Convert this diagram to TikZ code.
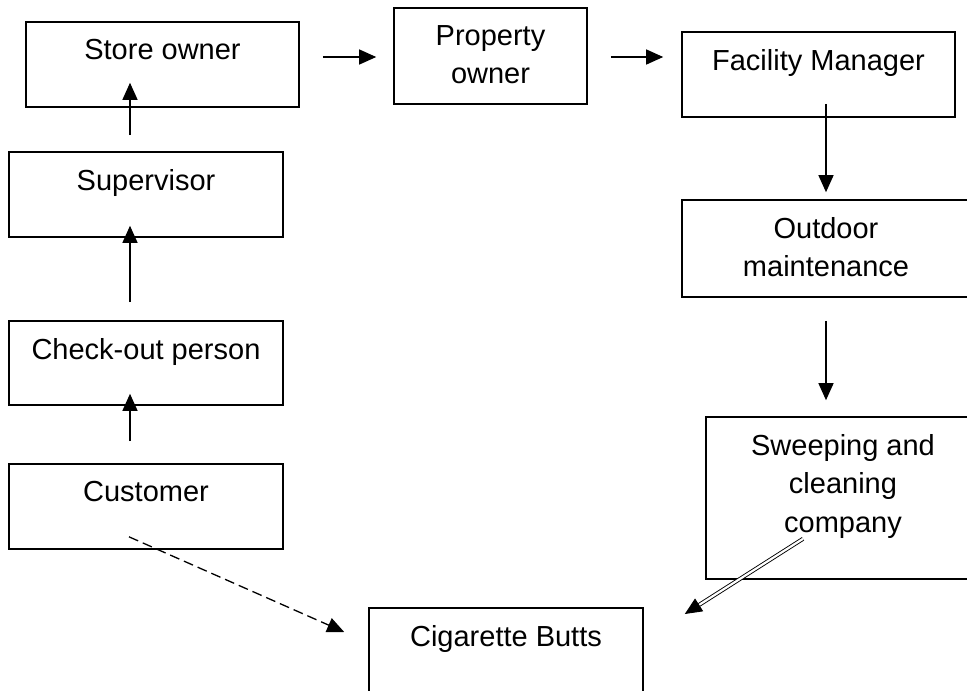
\documentclass[tikz,border=0pt]{standalone}
\usepackage{fontspec}
\setmainfont{Liberation Sans}
\usepackage{tikz}
\usetikzlibrary{arrows.meta, positioning, calc}

\begin{document}
\begin{tikzpicture}[
            x=1pt, y=-1pt,
            % Box and label styles
            box/.style={
                rectangle,
                draw=black,
                line width=1.6pt,
                inner sep=0pt
            },
            txt/.style={
                align=center,
                inner sep=0pt,
                font=\fontsize{29}{38.5}\selectfont
            },
            line/.style={
                draw,
                line width=1.3pt,
                -{Triangle[length=17pt,width=15pt]}
            },
            dashline/.style={
                line,
                dash pattern=on 10pt off 5pt
            },
            dblline/.style={
                draw,
                double,
                double distance=2.2pt,
                line width=0.9pt,
                -{Triangle[length=17pt,width=15pt]}
            }
        ]
        \useasboundingbox (0,0) rectangle (967,691);
        \clip (0,0) rectangle (967,691);

        % --- Boxes ---
        \node [box, minimum width=273pt, minimum height=85pt] (store) at (162.5,64.5) {};
        \node [box, minimum width=193pt, minimum height=96pt] (prop) at (490.5,56) {};
        \node [box, minimum width=273pt, minimum height=85pt] (fac) at (818.5,74.5) {};
        \node [box, minimum width=288pt, minimum height=97pt] (outd) at (826,248.5) {};
        \node [box, minimum width=274pt, minimum height=162pt] (sweep) at (843,498) {};
        \node [box, minimum width=274pt, minimum height=85pt] (sup) at (146,194.5) {};
        \node [box, minimum width=274pt, minimum height=84pt] (chk) at (146,363) {};
        \node [box, minimum width=274pt, minimum height=85pt] (cust) at (146,506.5) {};
        \node [box, minimum width=274pt, minimum height=90pt] (cig) at (506,653) {};

        % --- Labels ---
        \node [txt, below=18pt of store.north] (store-t) {Store owner};
        \node [txt, below=18pt of prop.north] (prop-t) {Property\\owner};
        \node [txt, below=18pt of fac.north] (fac-t) {Facility Manager};
        \node [txt, below=18pt of outd.north] (outd-t) {Outdoor\\maintenance};
        \node [txt, below=18pt of sweep.north] (sweep-t) {Sweeping and\\cleaning\\company};
        \node [txt, below=18pt of sup.north] (sup-t) {Supervisor};
        \node [txt, below=18pt of chk.north] (chk-t) {Check-out person};
        \node [txt, below=18pt of cust.north] (cust-t) {Customer};
        \node [txt, below=18pt of cig.north] (cig-t) {Cigarette Butts};

        % --- Edges ---
        \path [line] ($(cust.north)+(-16,-22)$) -- ($(chk.south)+(-16,-12)$);
        \path [line] ($(chk.north)+(-16,-18)$) -- ($(sup.south)+(-16,-12)$);
        \path [line] ($(sup.north)+(-16,-16)$) -- ($(store.south)+(-32.5,-25)$);
        \path [line] ($(store.east)+(23,-7.5)$) -- ($(prop.west)+(-17,1)$);
        \path [line] ($(prop.east)+(23,1)$) -- ($(fac.west)+(-18,-17.5)$);
        \path [line] ($(fac.south)+(7.5,-14)$) -- ($(outd.north)+(0,-7)$);
        \path [line] ($(outd.south)+(0,23)$) -- ($(sweep.north)+(-17,-16)$);
        \path [dashline] ($(cust.south)+(-17,-13)$) -- ($(cig.west)+(-24,-21)$);
        \path [dblline] ($(sweep.south)+(-40,-41)$) -- ($(cig.east)+(41,-39)$);

\end{tikzpicture}
\end{document}
